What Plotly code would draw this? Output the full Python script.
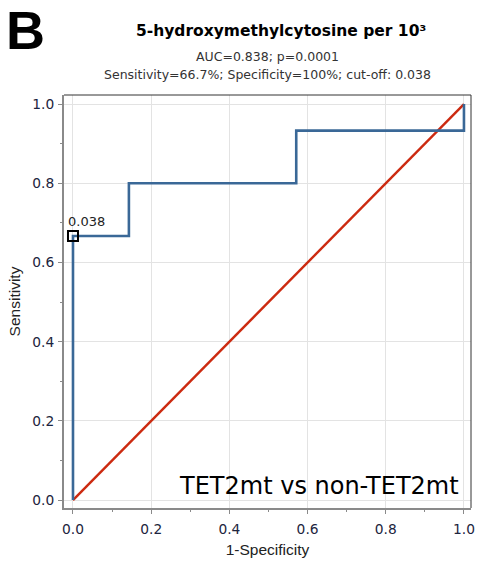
import plotly.graph_objects as go

roc_x = [0, 0, 0.143, 0.143, 0.571, 0.571, 1.0, 1.0]
roc_y = [0, 0.667, 0.667, 0.8, 0.8, 0.933, 0.933, 1.0]
diag_x = [0, 1]
diag_y = [0, 1]
cut_x = [0]
cut_y = [0.667]
cut_label = "0.038"
tick_vals = [0.0, 0.2, 0.4, 0.6, 0.8, 1.0]
tick_text = ["0.0", "0.2", "0.4", "0.6", "0.8", "1.0"]

W, H = 481, 566
L, R, T, B = 64, 6, 95, 58
pw = W - L - R
ph = H - T - B

def px(x):
    return (x - L) / pw

def py(y):
    return (H - B - y) / ph

fig = go.Figure()
fig.add_trace(go.Scatter(x=diag_x, y=diag_y, mode="lines",
                         line=dict(color="#cc2a10", width=2.4), hoverinfo="skip"))
fig.add_trace(go.Scatter(x=roc_x, y=roc_y, mode="lines",
                         line=dict(color="#3a6897", width=2.6), hoverinfo="skip"))
fig.add_trace(go.Scatter(x=cut_x, y=cut_y, mode="markers",
                         marker=dict(symbol="square-open", size=10, color="black",
                                     line=dict(width=2, color="black")),
                         hoverinfo="skip"))
fig.add_annotation(x=cut_x[0], y=cut_y[0], xref="x", yref="y", text=cut_label,
                   showarrow=False, xanchor="left", yanchor="bottom",
                   xshift=-7, yshift=5,
                   font=dict(family="DejaVu Sans", size=13, color="#222"))

axis_common = dict(
    tickvals=tick_vals, ticktext=tick_text,
    showgrid=True, gridcolor="#e3e3e3", gridwidth=1,
    zeroline=False, showline=True, linecolor="#8a8a8a", linewidth=2,
    ticks="outside", ticklen=4, tickcolor="#8a8a8a",
    tickfont=dict(family="DejaVu Sans", size=13.8, color="#1d2540"),
    minor=dict(dtick=0.1, ticks="outside", ticklen=2, tickcolor="#8a8a8a", showgrid=False),
)
fig.update_xaxes(range=[-0.023, 1.018], **axis_common, ticklabelstandoff=3,
                 title=dict(text="1-Specificity", standoff=9,
                            font=dict(family="Liberation Sans", size=15.5, color="#222")))
fig.update_yaxes(range=[-0.02, 1.023], **axis_common, ticklabelstandoff=1,
                 title=dict(text="Sensitivity", standoff=8,
                            font=dict(family="Liberation Sans", size=15.5, color="#222")))

# top and right frame
fig.add_shape(type="line", xref="paper", yref="paper", x0=0, x1=1, y0=1, y1=1,
              line=dict(color="#333", width=1))
fig.add_shape(type="line", xref="paper", yref="paper", x0=1, x1=1, y0=0, y1=1,
              line=dict(color="#333", width=1))

ann = [
    dict(text="<b>B</b>", x=px(3), y=py(30), xanchor="left", yanchor="middle",
         font=dict(family="Liberation Sans", size=54, color="black")),
    dict(text="<b>5-hydroxymethylcytosine per 10³</b>", x=px(283), y=py(31),
         xanchor="center", yanchor="middle",
         font=dict(family="DejaVu Sans", size=15.5, color="black")),
    dict(text="AUC=0.838; p=0.0001", x=px(270), y=py(57), xanchor="center", yanchor="middle",
         font=dict(family="DejaVu Sans", size=12.5, color="#333")),
    dict(text="Sensitivity=66.7%; Specificity=100%; cut-off: 0.038", x=px(270), y=py(75),
         xanchor="center", yanchor="middle",
         font=dict(family="DejaVu Sans", size=12.5, color="#333")),
    dict(text="TET2mt vs non-TET2mt", x=px(465), y=py(486), xanchor="right", yanchor="middle",
         font=dict(family="DejaVu Sans", size=24, color="black")),
]
for a in ann:
    fig.add_annotation(xref="paper", yref="paper", showarrow=False, **a)

fig.update_layout(width=W, height=H, margin=dict(l=L, r=R, t=T, b=B),
                  plot_bgcolor="white", paper_bgcolor="white", showlegend=False)
fig.write_html("out.html")
